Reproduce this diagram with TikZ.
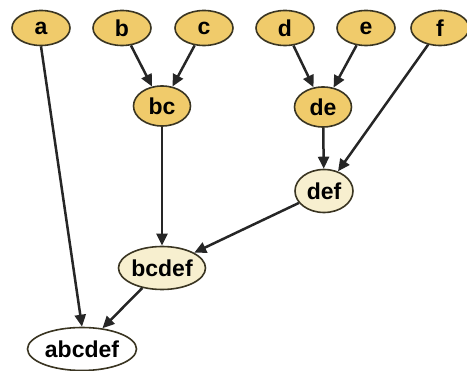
\documentclass[tikz,border=0pt]{standalone}
\usepackage{fontspec}
\setmainfont{Liberation Sans}
\usepackage{tikz}
\usetikzlibrary{arrows.meta,shapes.geometric}
\definecolor{gold}{HTML}{F0CB6B}
\definecolor{cream}{HTML}{F7EFCF}
\definecolor{rim}{HTML}{3A3522}
\tikzset{leaf/.style={ellipse,draw=rim,fill=gold,line width=1.6pt,inner sep=0pt,minimum width=58pt,minimum height=35pt,font=\fontsize{23}{23}\bfseries},
 merged/.style={leaf,minimum height=40pt},
 pale/.style={merged,fill=cream},
 rootnode/.style={pale,fill=white},
 link/.style={-{Triangle[length=12pt,width=11pt]},line width=2.5pt,black!85}}
\begin{document}
\begin{tikzpicture}[x=1pt,y=-1pt]
\useasboundingbox (0,0) rectangle (467,371);
\node[leaf] (a) at (41,28) {a};
\node[leaf] (b) at (122,28) {b};
\node[leaf] (c) at (204,28) {c};
\node[leaf] (d) at (285,28) {d};
\node[leaf] (e) at (366,28) {e};
\node[leaf] (f) at (440,28) {f};
\node[merged,minimum width=57pt] (bc) at (162,106) {bc};
\node[merged,minimum width=57pt] (de) at (323,107) {de};
\node[pale,minimum width=58pt,minimum height=43pt] (def) at (324,191) {def};
\node[pale,minimum width=87pt,minimum height=43pt] (bcdef) at (162,268) {bcdef};
\node[rootnode,minimum width=109pt,minimum height=43pt] (abcdef) at (82,349) {abcdef};
\draw[link] (b)--(bc);\draw[link] (c)--(bc);
\draw[link] (d)--(de);\draw[link] (e)--(de);
\draw[link] (de)--(def);\draw[link] (f)--(def);
\draw[link] (bc)--(bcdef);\draw[link] (def)--(bcdef);
\draw[link] (a.south)--(abcdef.north);\draw[link] (bcdef)--(abcdef);
\end{tikzpicture}
\end{document}
